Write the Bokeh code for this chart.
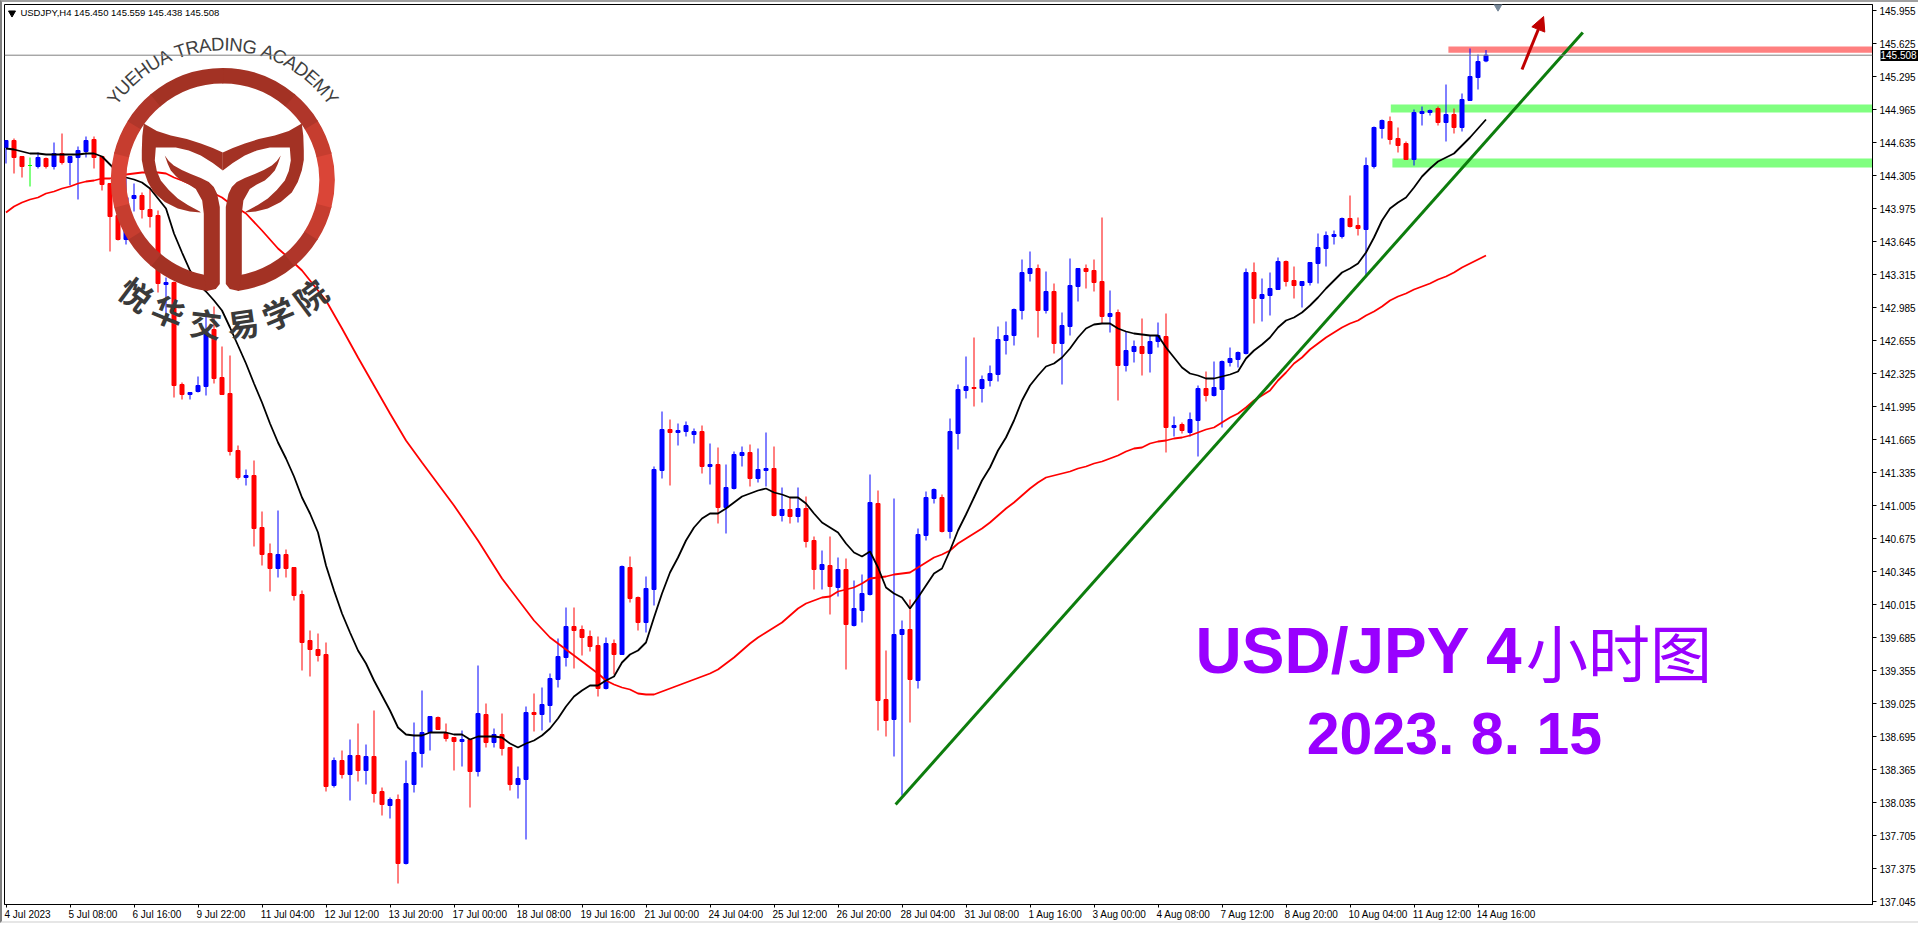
import math

from bokeh.core.properties import value
from bokeh.embed import file_html
from bokeh.models import (Arrow, ColumnDataSource, FixedTicker, Label, LinearAxis,
                          NormalHead, NumeralTickFormatter, Range1d, Span)
from bokeh.plotting import figure
from bokeh.resources import INLINE

opens = [
    144.585,144.655,144.495,144.405,144.395,144.475,144.395,144.525,144.435,144.485,
    144.545,144.665,144.495,144.225,143.905,143.665,144.075,144.105,143.965,143.905,
    143.215,143.235,142.215,142.115,142.145,142.195,142.765,142.285,142.125,141.555,
    141.285,141.305,140.785,140.525,140.375,140.515,140.385,140.115,139.655,139.565,
    139.515,138.205,138.455,138.315,138.505,138.355,138.495,138.145,138.005,138.065,
    137.425,138.215,138.525,138.735,138.885,138.725,138.685,138.645,138.665,138.345,
    138.915,138.635,138.715,138.585,138.215,138.265,138.935,138.915,139.005,139.265,
    139.485,139.795,139.765,139.695,139.605,139.175,139.625,139.515,140.385,140.085,
    139.835,140.165,141.355,141.765,141.735,141.745,141.715,141.745,141.395,141.415,
    140.985,141.175,141.505,141.535,141.275,141.355,141.375,140.905,140.965,140.895,
    140.975,140.655,140.365,140.405,140.185,140.365,139.805,139.955,140.115,141.025,
    139.065,138.865,139.715,139.765,139.255,140.705,141.075,141.085,140.745,141.725,
    142.155,142.185,142.175,142.255,142.315,142.655,142.705,142.955,143.325,143.375,
    142.955,143.145,142.625,142.795,143.195,143.375,143.355,143.245,142.895,142.935,
    142.405,142.545,142.595,142.525,142.645,142.695,141.785,141.815,141.735,141.855,
    142.175,142.105,142.165,142.435,142.465,142.525,143.335,143.075,143.105,143.165,
    143.445,143.255,143.205,143.235,143.425,143.575,143.695,143.695,143.875,143.805,
    143.765,144.395,144.775,144.845,144.675,144.625,144.465,144.925,144.935,144.975,
    144.835,144.915,144.785,145.055,145.285,145.450,
]
highs = [
    144.655,144.675,144.495,144.485,144.535,144.485,144.635,144.725,144.495,144.595,
    144.695,144.695,144.495,144.225,143.955,144.275,144.225,144.135,144.185,143.955,
    143.285,143.245,142.235,142.135,142.295,142.895,142.995,142.595,142.505,141.605,
    141.365,141.455,140.945,140.625,140.955,140.565,140.385,140.155,139.755,139.725,
    139.635,138.485,138.555,138.665,138.825,138.615,138.955,138.185,138.085,138.115,
    138.455,138.835,139.155,138.895,138.895,138.825,138.685,138.755,138.665,139.405,
    139.025,138.775,138.925,138.585,138.395,138.995,139.125,139.185,139.325,139.675,
    139.985,139.985,139.805,139.755,139.695,139.685,139.665,140.405,140.495,140.095,
    140.295,141.395,141.945,141.865,141.825,141.845,141.775,141.805,141.625,141.585,
    141.415,141.545,141.595,141.615,141.575,141.735,141.595,141.185,141.085,141.185,
    141.095,140.695,140.555,140.695,140.485,140.475,140.255,140.315,141.315,141.155,
    139.555,141.075,139.855,140.065,140.775,141.145,141.175,141.115,141.875,142.215,
    142.495,142.685,142.305,142.405,142.795,142.845,142.975,143.465,143.545,143.415,
    143.345,143.225,142.935,143.475,143.375,143.415,143.465,143.885,143.155,142.965,
    142.745,142.655,142.875,142.705,142.835,142.925,141.895,141.835,141.935,142.205,
    142.345,142.445,142.455,142.585,142.545,143.375,143.435,143.275,143.335,143.485,
    143.455,143.395,143.245,143.435,143.725,143.745,143.755,143.885,144.105,143.885,
    144.485,144.795,144.865,144.895,144.785,144.645,144.965,144.995,144.965,144.995,
    145.215,144.975,145.125,145.575,145.515,145.559,
]
lows = [
    144.425,144.325,144.285,144.195,144.375,144.375,144.365,144.415,144.205,144.065,
    144.485,144.375,144.155,143.545,143.655,143.615,143.945,143.875,143.785,143.135,
    142.905,142.085,142.065,142.065,142.135,142.105,142.225,142.115,141.505,141.265,
    141.205,140.595,140.405,140.145,140.285,140.285,140.055,139.355,139.295,139.445,
    138.145,138.185,138.275,138.055,138.245,138.215,138.035,137.905,137.875,137.225,
    137.415,138.135,138.385,138.555,138.765,138.645,138.355,138.395,137.985,138.295,
    138.585,138.585,138.505,138.155,138.075,137.665,138.745,138.755,138.835,139.185,
    139.395,139.375,139.505,139.545,139.095,139.165,139.315,139.515,140.035,139.755,
    139.735,140.005,141.275,141.205,141.605,141.695,141.625,141.325,141.215,140.825,
    140.725,141.165,141.395,141.195,141.235,141.195,140.895,140.845,140.825,140.835,
    140.585,140.165,140.165,139.915,140.095,139.365,139.795,139.835,140.105,138.755,
    138.695,138.495,138.105,138.835,139.175,140.655,141.025,140.735,140.675,141.565,
    142.075,141.995,142.035,142.195,142.245,142.515,142.605,142.865,143.245,142.685,
    142.925,142.525,142.215,142.705,143.045,143.175,143.145,142.825,142.735,142.055,
    142.345,142.435,142.305,142.335,142.585,141.535,141.695,141.725,141.695,141.495,
    142.045,142.095,141.785,142.395,142.385,142.515,142.825,142.845,142.905,143.165,
    143.195,143.075,142.985,143.205,143.225,143.395,143.615,143.675,143.785,143.705,
    143.305,144.375,144.675,144.615,144.535,144.465,144.405,144.805,144.905,144.805,
    144.645,144.725,144.745,145.055,145.165,145.438,
]
closes = [
    144.655,144.485,144.395,144.405,144.485,144.395,144.525,144.435,144.495,144.555,
    144.655,144.485,144.215,143.895,143.665,144.085,144.105,143.965,143.895,143.225,
    143.235,142.205,142.115,142.135,142.205,142.745,142.275,142.115,141.545,141.285,
    141.305,140.775,140.515,140.375,140.515,140.375,140.105,139.635,139.565,139.505,
    138.195,138.455,138.315,138.505,138.355,138.495,138.125,138.015,138.065,137.425,
    138.225,138.535,138.735,138.895,138.765,138.675,138.645,138.665,138.345,138.925,
    138.635,138.715,138.575,138.215,138.275,138.935,138.915,139.015,139.275,139.495,
    139.795,139.755,139.685,139.595,139.175,139.625,139.515,140.395,140.075,139.835,
    140.175,141.365,141.765,141.735,141.755,141.805,141.745,141.395,141.415,140.985,
    141.185,141.515,141.535,141.275,141.365,141.375,140.905,140.965,140.895,140.975,
    140.645,140.365,140.415,140.195,140.365,139.815,139.975,140.125,141.035,139.055,
    138.855,139.715,139.765,139.265,140.715,141.085,141.165,140.745,141.745,142.165,
    142.195,142.175,142.265,142.325,142.665,142.705,142.965,143.335,143.375,142.955,
    143.145,142.625,142.805,143.205,143.375,143.345,143.235,142.895,142.925,142.405,
    142.555,142.595,142.525,142.645,142.705,141.785,141.805,141.755,141.865,142.175,
    142.105,142.185,142.445,142.475,142.535,143.335,143.075,143.115,143.175,143.445,
    143.245,143.205,143.245,143.435,143.585,143.705,143.715,143.875,143.795,143.775,
    144.405,144.785,144.855,144.665,144.605,144.465,144.935,144.945,144.955,144.835,
    144.915,144.785,145.065,145.295,145.445,145.508,
]
ma_fast = [
    144.575,144.565,144.545,144.525,144.525,144.515,144.515,144.515,144.515,144.515,
    144.525,144.525,144.495,144.415,144.335,144.285,144.265,144.235,144.175,144.075,
    143.975,143.725,143.535,143.355,143.225,143.145,143.055,142.955,142.785,142.605,
    142.425,142.225,142.035,141.825,141.635,141.475,141.295,141.085,140.925,140.735,
    140.405,140.155,139.925,139.735,139.555,139.425,139.255,139.105,138.955,138.785,
    138.715,138.705,138.705,138.735,138.735,138.735,138.715,138.715,138.665,138.695,
    138.695,138.695,138.685,138.625,138.585,138.625,138.655,138.705,138.775,138.875,
    138.995,139.095,139.155,139.205,139.205,139.255,139.295,139.435,139.515,139.555,
    139.635,139.885,140.125,140.335,140.485,140.655,140.785,140.875,140.925,140.925,
    140.975,141.035,141.095,141.125,141.155,141.175,141.135,141.115,141.085,141.085,
    141.025,140.925,140.835,140.785,140.735,140.625,140.535,140.495,140.545,140.385,
    140.185,140.125,140.085,139.975,140.085,140.205,140.325,140.375,140.555,140.755,
    140.915,141.085,141.255,141.385,141.555,141.685,141.855,142.055,142.205,142.305,
    142.395,142.425,142.485,142.575,142.685,142.775,142.815,142.825,142.825,142.775,
    142.745,142.725,142.715,142.705,142.705,142.585,142.485,142.385,142.325,142.305,
    142.275,142.275,142.295,142.315,142.345,142.475,142.555,142.615,142.685,142.785,
    142.855,142.885,142.935,143.005,143.085,143.175,143.255,143.335,143.375,143.425,
    143.535,143.685,143.855,143.975,144.035,144.085,144.185,144.295,144.375,144.445,
    144.485,144.525,144.605,144.685,144.775,144.865,
]
ma_slow_bars = [
    0,1,2,3,4,5,6,7,8,9,10,11,12,13,14,15,16,17,18,19,20,21,22,24,25,27,28,29,30,32,34,35,37,
    40,42,44,46,48,50,52,56,59,62,66,68,70,74,75,76,77,78,79,80,81,82,83,84,85,86,87,88,89,
    90,91,92,93,94,95,96,97,98,99,100,101,102,103,104,105,106,107,108,109,110,111,112,113,
    114,115,116,117,118,119,120,121,122,123,124,125,126,127,128,129,130,131,132,133,134,135,
    136,137,138,139,140,141,142,143,144,145,146,147,148,149,150,151,152,153,154,155,156,157,
    158,159,160,161,162,163,164,165,166,167,168,169,170,171,172,173,174,175,176,177,178,179,
    180,181,182,183,184,185,
]
ma_slow = [
    143.935,143.995,144.035,144.065,144.085,144.125,144.145,144.175,144.195,144.225,144.245,
    144.255,144.275,144.275,144.305,144.315,144.325,144.335,144.335,144.335,144.325,144.285,
    144.255,144.185,144.165,144.085,144.025,143.975,143.925,143.755,143.575,143.505,143.355,
    143.055,142.775,142.485,142.205,141.925,141.655,141.435,141.005,140.655,140.275,139.855,
    139.685,139.565,139.325,139.255,139.215,139.185,139.165,139.125,139.115,139.115,139.145,
    139.175,139.205,139.235,139.265,139.295,139.325,139.365,139.425,139.485,139.555,139.625,
    139.685,139.735,139.785,139.835,139.905,139.975,140.025,140.055,140.085,140.095,140.145,
    140.165,140.185,140.225,140.275,140.285,140.295,140.315,140.325,140.335,140.385,140.435,
    140.485,140.515,140.555,140.625,140.675,140.725,140.775,140.835,140.905,140.975,141.035,
    141.105,141.175,141.235,141.285,141.305,141.325,141.345,141.375,141.395,141.425,141.445,
    141.475,141.505,141.545,141.575,141.585,141.625,141.645,141.655,141.675,141.685,141.705,
    141.735,141.765,141.785,141.835,141.885,141.925,141.985,142.055,142.105,142.155,142.255,
    142.335,142.425,142.485,142.565,142.625,142.685,142.735,142.785,142.825,142.855,142.905,
    142.945,142.995,143.055,143.095,143.125,143.165,143.195,143.225,143.265,143.295,143.335,
    143.385,143.425,143.465,143.505,
]
price_ticks = [
    137.045,137.375,137.705,138.035,138.365,138.695,139.025,139.355,139.685,140.015,
    140.345,140.675,141.005,141.335,141.665,141.995,142.325,142.655,142.985,143.315,
    143.645,143.975,144.305,144.635,144.965,145.295,145.625,145.955,
]
time_labels = [
    "4 Jul 2023","5 Jul 08:00","6 Jul 16:00","9 Jul 22:00","11 Jul 04:00","12 Jul 12:00",
    "13 Jul 20:00","17 Jul 00:00","18 Jul 08:00","19 Jul 16:00","21 Jul 00:00","24 Jul 04:00",
    "25 Jul 12:00","26 Jul 20:00","28 Jul 04:00","31 Jul 08:00","1 Aug 16:00","3 Aug 00:00",
    "4 Aug 08:00","7 Aug 12:00","8 Aug 20:00","10 Aug 04:00","11 Aug 12:00","14 Aug 16:00",
]
last_price = 145.508
trend_bars = [111.2, 197.1]
trend_prices = [138.015, 145.735]
# zones: first bar, top price, bottom price, colour
zone_left = [180.3, 173.1, 173.3]
zone_top = [145.595, 145.015, 144.475]
zone_bottom = [145.532, 144.935, 144.385]
zone_colors = ["#ff8080", "#80ff80", "#80ff80"]

W, H = 1918, 923
BAR_PX, PRICE_PX = 8, 100
x_start, x_end = -0.1875, 233.3125
y_start, y_end = 137.015, 146.015
label_font = "Liberation Sans"
char_em = {" ": .278, ":": .278, "J": .5, "u": .556, "l": .222, "A": .667, "g": .556}

bars = list(range(len(closes)))
colors = ["#0000ff" if c > o else "#ff0000" if c < o else "#00ff00" for o, c in zip(opens, closes)]
source = ColumnDataSource(data=dict(
    bar=bars,
    high=highs,
    low=lows,
    top=[max(o, c) for o, c in zip(opens, closes)],
    bottom=[min(o, c) for o, c in zip(opens, closes)],
    color=colors,
))

p = figure(width=W, height=H, output_backend="svg", toolbar_location=None,
           x_range=Range1d(x_start, x_end), y_range=Range1d(y_start, y_end),
           y_axis_location="right",
           min_border_left=2, min_border_right=48, min_border_top=2, min_border_bottom=21,
           styles={"border-left": "2px solid #808080", "border-top": "2px solid #a0a0a0",
                   "border-bottom": "2px solid #e6e6e6"})
p.grid.visible = False
p.outline_line_color = "black"
p.background_fill_color = "white"
p.border_fill_color = "white"

yaxis = p.yaxis[0]
yaxis.ticker = FixedTicker(ticks=price_ticks)
yaxis.formatter = NumeralTickFormatter(format="0.000")
yaxis.major_label_text_font = label_font
yaxis.major_label_text_font_size = "10px"
yaxis.major_label_text_color = "black"
yaxis.major_label_standoff = 3
yaxis.major_tick_in = 0
yaxis.major_tick_out = 4
yaxis.minor_tick_line_color = None
yaxis.axis_line_color = "black"
yaxis.major_tick_line_color = "black"

# current price box: outer axis with one wide tick reaching back over the price scale
price_axis = LinearAxis(ticker=FixedTicker(ticks=[last_price]),
                        formatter=NumeralTickFormatter(format="0.000"),
                        axis_line_color=None, minor_tick_line_color=None,
                        major_tick_in=38, major_tick_out=3,
                        major_tick_line_color="black", major_tick_line_width=11,
                        major_label_standoff=-41, major_label_text_color="white",
                        major_label_text_font=label_font, major_label_text_font_size="10px")
p.add_layout(price_axis, "right")

tick_bars = [8 * i for i in range(len(time_labels))]
xaxis = p.xaxis[0]
xaxis.ticker = FixedTicker(ticks=tick_bars)
xaxis.major_label_overrides = {t: "" for t in tick_bars}
xaxis.major_label_standoff = 0
xaxis.major_tick_in = 0
xaxis.major_tick_out = 3
xaxis.minor_tick_line_color = None
xaxis.axis_line_color = "black"
xaxis.major_tick_line_color = "black"

# time labels start at their tick, so this axis puts each one half its width further right
label_ticks = [t + (sum(char_em.get(c, .556) for c in s) * 10 / 2 - 1.5) / BAR_PX
               for t, s in zip(tick_bars, time_labels)]
time_axis = LinearAxis(ticker=FixedTicker(ticks=label_ticks),
                       major_label_overrides=dict(zip(label_ticks, time_labels)),
                       axis_line_color=None, minor_tick_line_color=None,
                       major_tick_line_color=None, major_tick_in=0, major_tick_out=0,
                       major_label_standoff=1, major_label_text_color="black",
                       major_label_text_font=label_font, major_label_text_font_size="10px")
p.add_layout(time_axis, "below")

for left, top, bottom, color in zip(zone_left, zone_top, zone_bottom, zone_colors):
    p.quad(left=left, right=x_end, top=top, bottom=bottom, fill_color=color, line_color=None)

p.add_layout(Span(location=last_price, dimension="width", line_color="#808080", line_width=1))

p.segment(x0="bar", x1="bar", y0="low", y1="high", color="color", line_width=1, source=source)
p.vbar(x="bar", width=4 / BAR_PX, top="top", bottom="bottom", fill_color="color",
       line_color="color", line_width=1, source=source)

p.line(ma_slow_bars, ma_slow, line_color="#ff0000", line_width=1.8)
p.line(bars, ma_fast, line_color="black", line_width=1.8)
p.line(trend_bars, trend_prices, line_color="#0d7d0d", line_width=3)

p.add_layout(Arrow(end=NormalHead(size=14, fill_color="#c00000", line_color="#c00000"),
                   x_start=189.5, y_start=145.365, x_end=192.2, y_end=145.895,
                   line_color="#c00000", line_width=3))

# small chart markers of the terminal
p.scatter([186.5], [146.0], marker="inverted_triangle", size=9, color="#778899")
p.scatter([0.75], [145.93], marker="inverted_triangle", size=7, color="black")

# logo, offsets in pixels from its centre
logo_x, logo_y = 27.1, 144.26
ring_bands = [(-82, -50, "#a33224"), (-50, -32, "#b0362a"), (-32, -14, "#c63d2f"),
              (-14, 14, "#da4537"), (14, 32, "#c63d2f"), (32, 50, "#b0362a"), (50, 90, "#a33224")]
for a0, a1, color in ring_bands:
    for s, e in ((a0, a1), (180 - a1, 180 - a0)):
        p.annular_wedge(x=logo_x, y=logo_y, inner_radius=96.5, outer_radius=112,
                        inner_radius_units="screen", outer_radius_units="screen",
                        start_angle=math.radians(s - 0.3), end_angle=math.radians(e + 0.3),
                        fill_color=color, line_color=None)

logo_horn = [(-79, -56.5), (-66, -49), (-52, -44.5), (-36, -41), (-22, -36.5), (-10, -32), (0, -27.5),
             (0, -9.5), (-10, -17), (-22, -24.5), (-34, -29.5), (-47, -32.5), (-67, -32.5),
             (-68, -19.5), (-66, -9), (-62, 0.5), (-54, 10), (-45, 18.5), (-35, 25), (-23, 31.5),
             (-22, 32.5), (-33, 31.5), (-45, 28.5), (-58, 22), (-69, 12.5), (-75, 2), (-79, -9.5),
             (-81, -20), (-81, -29.5), (-80.5, -44)]
logo_stem = [(-58, -24.5), (-54, -19), (-49, -14.5), (-41, -10), (-32, -6), (-22, -2), (-14, 2),
             (-9, 7), (-5.6, 14), (-3, 27), (-3, 104), (-7, 109), (-16, 111), (-19, 94),
             (-19, 33.8), (-20.6, 20.5), (-27, 9), (-34, 4.5), (-42, 0.5), (-47, -4), (-52, -9.5),
             (-55, -16)]
for shape in (logo_horn, logo_stem):
    for side in (1, -1):
        p.patch([logo_x + side * dx / BAR_PX for dx, dy in shape],
                [logo_y - dy / PRICE_PX for dx, dy in shape],
                fill_color="#a33224", line_color=None)

logo_en = "YUEHUA TRADING ACADEMY"
logo_en_widths = [.667, .722, .667, .722, .722, .667, .278, .611, .722, .667, .722, .278, .722,
                  .778, .278, .667, .722, .667, .722, .667, .833, .667]
en_size, en_radius = 18.5, 136
total = sum(logo_en_widths) * en_size
pos, en_x, en_y, en_a = 0, [], [], []
for w in logo_en_widths:
    mid = pos + w * en_size / 2
    theta = math.pi / 2 + (total / 2 - mid) / en_radius
    en_x.append(logo_x + en_radius * math.cos(theta) / BAR_PX)
    en_y.append(logo_y + en_radius * math.sin(theta) / PRICE_PX)
    en_a.append(theta - math.pi / 2)
    pos += w * en_size
p.text(en_x, en_y, text=list(logo_en), angle=en_a, text_font=value("Liberation Sans"),
       text_font_size=f"{en_size}px", text_color="#3f3f3f", text_align="center",
       text_baseline="middle")

logo_cn = list("悦华交易学院")
logo_cn_pos = [(-86, 113.5), (-54, 130.5), (-17, 142.5), (20, 142.5), (55, 132.5), (87, 115.5)]
logo_cn_deg = [-37, -22.5, -7, 8, 22.5, 37]
p.text([logo_x + d[0] / BAR_PX for d in logo_cn_pos], [logo_y - d[1] / PRICE_PX for d in logo_cn_pos],
       text=logo_cn, angle=[math.radians(a) for a in logo_cn_deg],
       text_font=value("Noto Sans CJK SC"), text_font_style="bold", text_font_size="32px",
       text_color="#3a3a3a", text_align="center", text_baseline="middle")

# big captions
caption_color = "#9900ff"
p.add_layout(Label(x=148.7, y=139.55, text="USD/JPY 4", text_font="Liberation Sans",
                   text_font_style="bold", text_font_size="64px", text_color=caption_color,
                   text_baseline="middle"))
p.add_layout(Label(x=190.0, y=139.55, text="小时图", text_font="Noto Sans CJK SC",
                   text_font_size="62px", text_color=caption_color, text_baseline="middle"))
p.add_layout(Label(x=162.6, y=138.72, text="2023. 8. 15", text_font="Liberation Sans",
                   text_font_style="bold", text_font_size="59px", text_color=caption_color,
                   text_baseline="middle"))

p.add_layout(Label(x=1.8, y=145.935, text="USDJPY,H4  145.450 145.559 145.438 145.508",
                   text_font=label_font, text_font_size="9.5px", text_color="black",
                   text_baseline="middle"))

open("out.html", "w").write(file_html(p, INLINE))
